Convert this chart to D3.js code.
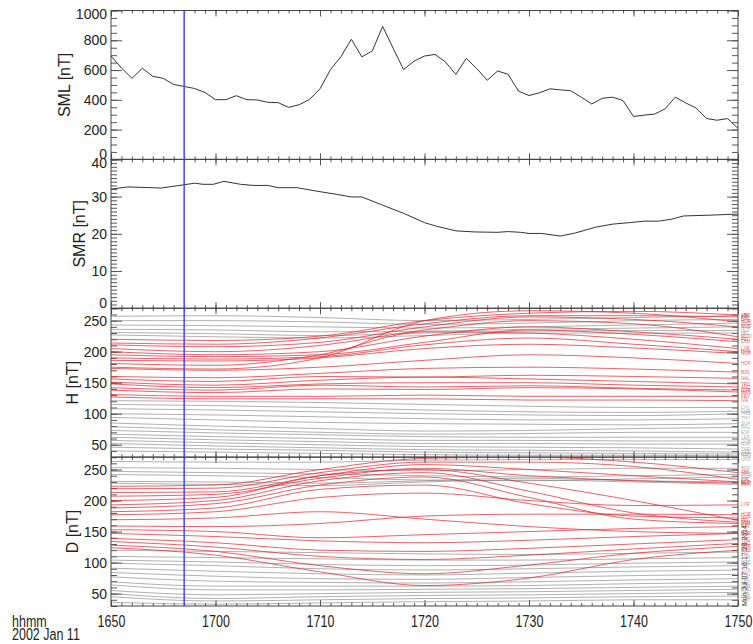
<!DOCTYPE html>
<html>
<head>
<meta charset="utf-8">
<script src="https://cdn.jsdelivr.net/npm/d3@7"></script>
<style>
body { margin: 0; background: #fff; }
svg { font-family: "Liberation Sans", Arial, sans-serif; }
</style>
</head>
<body>
<div id="chart"></div>
<script>
// SML, one value per minute from 16:50 to 17:50 UT
const smlValues = [694, 615, 544, 612, 558, 544, 503, 490, 476, 449, 401, 401, 428, 401, 399, 383,
    381, 349, 367, 403, 474, 603, 689, 807, 689, 728, 893, 746, 603, 660, 694, 705, 655, 571, 678,
    610, 531, 594, 571, 458, 429, 447, 474, 467, 461, 418, 372, 410, 418, 395, 288, 297, 304, 338,
    418, 379, 345, 274, 263, 274, 209];

// SMR vertices (minutes after 16:50, nT)
const smrMinutes = [0, 1.6, 4.8, 6.8, 8, 8.8, 9.8, 10.8, 12.4, 13.6, 15, 16, 17.8, 19.6, 21.6, 23, 24,
    26, 28, 30, 31.2, 33, 34.8, 37, 38, 39.2, 40, 41.2, 43, 44.4, 46.4, 48, 49.6, 51, 52.4, 53.6,
    54.8, 57.2, 60];
const smrValues = [32.0, 32.6, 32.3, 33.1, 33.6, 33.3, 33.3, 34.1, 33.3, 33.0, 33.0, 32.4, 32.4, 31.5,
    30.6, 29.9, 29.9, 27.7, 25.5, 23.0, 22.0, 20.8, 20.5, 20.4, 20.6, 20.4, 20.1, 20.1, 19.4, 20.2,
    21.8, 22.6, 23.0, 23.4, 23.4, 23.9, 24.8, 25.0, 25.3];

// station traces, sampled every 10 minutes
const knotMinutes = [0, 10, 20, 30, 40, 50, 60];

const hRedLines = [
    [220, 218, 225, 250, 262, 265, 259],
    [214, 212, 222, 245, 258, 258, 256],
    [211, 208, 215, 240, 256, 252, 240],
    [205, 200, 210, 235, 250, 245, 224],
    [200, 195, 200, 225, 240, 232, 220],
    [195, 192, 195, 215, 235, 228, 216],
    [190, 188, 192, 211, 222, 212, 200],
    [186, 185, 190, 205, 212, 206, 197],
    [181, 178, 195, 232, 230, 220, 205],
    [175, 172, 190, 250, 266, 262, 248],
    [173, 170, 175, 186, 195, 190, 181],
    [160, 158, 165, 173, 175, 172, 167],
    [156, 152, 160, 159, 162, 160, 157],
    [151, 146, 154, 159, 156, 152, 148],
    [148, 142, 148, 150, 150, 146, 143],
    [142, 138, 146, 143, 145, 141, 138],
    [138, 134, 140, 139, 142, 140, 135],
    [131, 128, 128, 130, 128, 128, 128],
    [127, 124, 124, 124, 122, 122, 121]
];
const hGrayLines = [
    [257, 258, 255, 250, 252, 255, 258],
    [250, 250, 248, 244, 246, 250, 252],
    [243, 242, 240, 238, 240, 243, 246],
    [236, 235, 232, 233, 236, 238, 240],
    [231, 229, 226, 230, 233, 234, 234],
    [227, 224, 222, 226, 230, 230, 230],
    [121, 120, 118, 115, 112, 110, 110],
    [115, 113, 110, 106, 103, 102, 104],
    [108, 106, 103, 100, 98, 97, 100],
    [100, 98, 95, 92, 90, 90, 92],
    [94, 90, 86, 84, 83, 82, 84],
    [85, 80, 76, 72, 73, 76, 78],
    [79, 74, 70, 67, 68, 70, 70],
    [73, 69, 66, 63, 62, 62, 62],
    [67, 63, 60, 57, 57, 56, 56],
    [62, 58, 55, 52, 52, 51, 51],
    [57, 53, 50, 47, 46, 45, 43],
    [52, 48, 45, 42, 41, 40, 38],
    [46, 43, 41, 38, 37, 36, 35],
    [40, 38, 36, 34, 33, 33, 32]
];

const dRedLines = [
    [223, 225, 250, 268, 270, 262, 245],
    [219, 220, 245, 262, 262, 255, 234],
    [213, 214, 240, 258, 250, 240, 230],
    [207, 210, 236, 252, 240, 232, 228],
    [200, 205, 240, 250, 228, 200, 168],
    [193, 200, 232, 245, 215, 180, 165],
    [188, 195, 225, 238, 205, 170, 163],
    [182, 188, 218, 225, 195, 175, 172],
    [177, 182, 205, 212, 200, 192, 193],
    [169, 172, 182, 170, 158, 150, 147],
    [159, 158, 163, 175, 178, 178, 177],
    [153, 150, 140, 145, 150, 155, 158],
    [147, 142, 135, 132, 136, 142, 147],
    [139, 132, 120, 118, 123, 130, 137],
    [134, 125, 110, 105, 112, 122, 131],
    [128, 118, 95, 82, 96, 115, 126],
    [124, 112, 85, 63, 75, 105, 120]
];
const dGrayLines = [
    [263, 262, 262, 265, 266, 266, 266],
    [253, 252, 250, 248, 250, 252, 252],
    [247, 245, 243, 240, 238, 240, 242],
    [242, 240, 237, 233, 232, 235, 238],
    [231, 230, 228, 232, 236, 232, 230],
    [228, 226, 224, 230, 233, 230, 226],
    [120, 118, 116, 114, 113, 115, 117],
    [110, 108, 106, 104, 104, 106, 108],
    [104, 101, 97, 95, 96, 99, 101],
    [99, 95, 90, 88, 90, 93, 95],
    [91, 86, 82, 80, 83, 86, 88],
    [84, 78, 74, 73, 76, 79, 81],
    [77, 70, 68, 67, 69, 72, 74],
    [69, 62, 62, 62, 63, 66, 68],
    [64, 56, 56, 57, 58, 60, 62],
    [55, 48, 50, 52, 53, 55, 57],
    [50, 42, 45, 47, 48, 50, 52],
    [45, 38, 40, 42, 43, 45, 46],
    [36, 33, 35, 37, 38, 40, 40]
];

const redCodes = ["ABK", "KIR", "SOD", "MUO", "PEL", "OUJ", "HAN", "NUR", "LYR", "HOR", "HOP",
    "BJN", "NAL", "TRO", "AND", "SOR", "MAS", "KEV", "IVA"];
const grayCodes = ["UPS", "BFE", "WNG", "NGK", "HLP", "BEL", "LVV", "FUR", "HRB", "THY", "SUA",
    "PAG", "ESK", "LER", "DOB", "RVK", "TAR", "KAR", "GDH", "NAQ"];

const markerMinute = 7;
const startTime = new Date(Date.UTC(2002, 0, 11, 16, 50));
const stamp = "Mon Jul 07 16:17:28 2014";

const panels = [
    {title: "SML [nT]", domain: [0, 1000], major: 5, minor: 20},
    {title: "SMR [nT]", domain: [0, 40], major: 4, minor: 40},
    {title: "H [nT]", domain: [30, 270], major: 5, minor: 24},
    {title: "D [nT]", domain: [30, 270], major: 5, minor: 24}
];

const width = 753;
const height = 644;
const margin = {top: 10.5, right: 15, bottom: 38, left: 111};
const panelH = (height - margin.top - margin.bottom) / panels.length;
const tickColor = "#555";

const toTime = m => new Date(startTime.getTime() + m * 60000);

const svg = d3.select("#chart")
    .append("svg")
    .attr("width", width)
    .attr("height", height);

const x = d3.scaleUtc()
    .domain([toTime(0), toTime(60)])
    .range([margin.left, width - margin.right]);

const minorTimes = x.ticks(d3.utcMinute.every(1));
const majorTimes = x.ticks(d3.utcMinute.every(10));

function styleAxis(g) {
    g.select(".domain").remove();
    g.selectAll("line").attr("stroke", tickColor);
    g.attr("font-family", null).attr("font-size", null);
}

panels.forEach((p, i) => {
    p.top = margin.top + i * panelH;
    p.bottom = p.top + panelH;
    p.y = d3.scaleLinear().domain(p.domain).range([p.bottom, p.top]);

    const g = svg.append("g").attr("class", "panel");

    g.append("clipPath")
        .attr("id", "clip" + i)
        .append("rect")
        .attr("x", margin.left)
        .attr("y", p.top)
        .attr("width", width - margin.right - margin.left)
        .attr("height", panelH);
    p.clip = "url(#clip" + i + ")";

    // minor and major ticks on all four sides, pointing inward
    const left = margin.left, right = width - margin.right;
    g.append("g").attr("transform", "translate(" + left + ",0)")
        .call(d3.axisLeft(p.y).tickValues(p.y.ticks(p.minor)).tickSize(-6).tickFormat(""))
        .call(styleAxis);
    g.append("g").attr("transform", "translate(" + right + ",0)")
        .call(d3.axisRight(p.y).tickValues(p.y.ticks(p.minor)).tickSize(-6).tickFormat(""))
        .call(styleAxis);
    g.append("g").attr("transform", "translate(" + right + ",0)")
        .call(d3.axisRight(p.y).tickValues(p.y.ticks(p.major)).tickSize(-11).tickFormat(""))
        .call(styleAxis);
    const yLabels = g.append("g").attr("transform", "translate(" + left + ",0)")
        .call(d3.axisLeft(p.y).tickValues(p.y.ticks(p.major)).tickSize(-11).tickPadding(4)
            .tickFormat(d3.format("d")))
        .call(styleAxis);
    // labels sitting on the panel edges are nudged inside, as in the original plot
    yLabels.selectAll("text")
        .attr("font-size", 14)
        .attr("fill", "#222")
        .attr("y", d => d === p.domain[1] ? 4 : d === p.domain[0] ? -5 : 0);

    g.append("g").attr("transform", "translate(0," + p.top + ")")
        .call(d3.axisTop(x).tickValues(minorTimes).tickSize(-3).tickFormat(""))
        .call(styleAxis);
    g.append("g").attr("transform", "translate(0," + p.top + ")")
        .call(d3.axisTop(x).tickValues(majorTimes).tickSize(-6).tickFormat(""))
        .call(styleAxis);
    g.append("g").attr("transform", "translate(0," + p.bottom + ")")
        .call(d3.axisBottom(x).tickValues(minorTimes).tickSize(-3).tickFormat(""))
        .call(styleAxis);
    const xAxis = g.append("g").attr("transform", "translate(0," + p.bottom + ")")
        .call(d3.axisBottom(x).tickValues(majorTimes).tickSize(-6)
            .tickFormat(i === panels.length - 1 ? d3.utcFormat("%H%M") : ""))
        .call(styleAxis);
    xAxis.selectAll("text")
        .attr("y", 0)
        .attr("dy", null)
        .attr("font-size", 12.5)
        .attr("fill", "#222")
        .attr("transform", "translate(0,21) scale(1,1.3)");

    g.append("rect")
        .attr("x", left)
        .attr("y", p.top)
        .attr("width", right - left)
        .attr("height", panelH)
        .attr("fill", "none")
        .attr("stroke", "#444")
        .attr("stroke-width", 1);

    const labelWidth = d3.max(yLabels.selectAll("text").nodes(), n => n.getComputedTextLength());
    g.append("text")
        .attr("transform", "translate(" + (left - 4 - labelWidth - 6) + "," + (p.top + panelH / 2) + ") rotate(-90)")
        .attr("text-anchor", "middle")
        .attr("font-size", 16)
        .attr("fill", "#222")
        .text(p.title);
});

// SML
const sml = panels[0];
svg.append("path")
    .datum(smlValues)
    .attr("clip-path", sml.clip)
    .attr("fill", "none")
    .attr("stroke", "#333")
    .attr("stroke-width", 1)
    .attr("d", d3.line().x((d, i) => x(toTime(i))).y(d => sml.y(d)));

// SMR
const smr = panels[1];
svg.append("path")
    .datum(smrValues)
    .attr("clip-path", smr.clip)
    .attr("fill", "none")
    .attr("stroke", "#333")
    .attr("stroke-width", 1)
    .attr("d", d3.line().x((d, i) => x(toTime(smrMinutes[i]))).y(d => smr.y(d)));

// stacked station traces for H and D
function drawTraces(p, lines, colour, opacity, codes) {
    const line = d3.line()
        .x((d, i) => x(toTime(knotMinutes[i])))
        .y(d => p.y(d))
        .curve(d3.curveMonotoneX);

    svg.append("g")
        .attr("clip-path", p.clip)
        .selectAll("path")
        .data(lines)
        .join("path")
        .attr("fill", "none")
        .attr("stroke", colour)
        .attr("stroke-opacity", opacity)
        .attr("stroke-width", 0.9)
        .attr("d", line);

    svg.append("g")
        .selectAll("text")
        .data(lines)
        .join("text")
        .attr("x", width - margin.right + 3)
        .attr("y", d => p.y(d[d.length - 1]))
        .attr("dy", "0.35em")
        .attr("font-size", 4.5)
        .attr("fill", colour)
        .attr("fill-opacity", opacity)
        .text((d, i) => codes[i % codes.length]);
}

drawTraces(panels[2], hGrayLines, "#777", 0.65, grayCodes);
drawTraces(panels[2], hRedLines, "#e3262b", 0.8, redCodes);
drawTraces(panels[3], dGrayLines, "#777", 0.65, grayCodes);
drawTraces(panels[3], dRedLines, "#e3262b", 0.8, redCodes);

// marker line through all panels
svg.append("line")
    .attr("x1", x(toTime(markerMinute)))
    .attr("x2", x(toTime(markerMinute)))
    .attr("y1", panels[0].top)
    .attr("y2", panels[panels.length - 1].bottom)
    .attr("stroke", "#4646f0")
    .attr("stroke-width", 1.5);

// bottom-left time caption
svg.append("text")
    .attr("transform", "translate(12,627) scale(1,1.3)")
    .attr("font-size", 12.5)
    .attr("fill", "#222")
    .text("hhmm");
svg.append("text")
    .attr("transform", "translate(12,640) scale(1,1.3)")
    .attr("font-size", 12.5)
    .attr("fill", "#222")
    .text("2002 Jan 11");

// creation stamp along the right edge
svg.append("text")
    .attr("transform", "translate(" + (width - 6) + "," + panels[3].bottom + ") rotate(-90)")
    .attr("font-size", 7)
    .attr("fill", "#444")
    .text(stamp);
</script>
</body>
</html>
